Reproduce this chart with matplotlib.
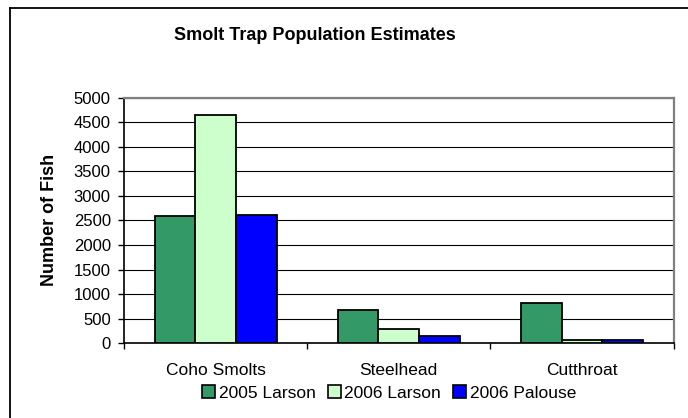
import matplotlib
matplotlib.use("Agg")
import matplotlib.pyplot as plt
from matplotlib.patches import Patch
from matplotlib.lines import Line2D
import numpy as np

plt.rcParams['font.family'] = ['Liberation Sans', 'DejaVu Sans']

categories = ["Coho Smolts", "Steelhead", "Cutthroat"]
series_names = ["2005 Larson", "2006 Larson", "2006 Palouse"]
larson_2005 = [2580, 670, 810]
larson_2006 = [4640, 290, 70]
palouse_2006 = [2600, 150, 60]
y_ticks = [0, 500, 1000, 1500, 2000, 2500, 3000, 3500, 4000, 4500, 5000]

colors = ["#339966", "#CCFFCC", "#0000FF"]

W, H = 688, 418
fig = plt.figure(figsize=(W / 100, H / 100), dpi=100)
fig.patch.set_facecolor("white")

# plot area in pixel terms
left_px, right_px, top_px, bottom_px = 124, 673.5, 97.5, 343.3
ax = fig.add_axes([left_px / W, 1 - bottom_px / H,
                   (right_px - left_px) / W, (bottom_px - top_px) / H])

x = np.arange(len(categories))
bw = 2 / 9
for i, (vals, c, name) in enumerate(zip([larson_2005, larson_2006, palouse_2006],
                                        colors, series_names)):
    ax.bar(x + (i - 1) * bw, vals, width=bw, color=c, edgecolor="black",
           linewidth=1.3, zorder=3, label=name)

ax.set_xlim(-0.5, len(categories) - 0.5)
ax.set_ylim(0, 5000)
ax.set_yticks(y_ticks)
ax.set_yticklabels([str(v) for v in y_ticks], fontsize=12)
ax.yaxis.grid(True, color="black", linewidth=0.8, zorder=0)
ax.set_axisbelow(True)

# category labels centred, ticks on category boundaries
ax.set_xticks(np.arange(-0.5, len(categories), 1.0))
ax.set_xticklabels([])
ax.set_xticks(x, minor=True)
ax.set_xticklabels(categories, minor=True, fontsize=12.5)
ax.tick_params(axis="x", which="minor", length=0, pad=14)
ax.tick_params(axis="x", which="major", length=4.5, width=1, direction="out")
ax.tick_params(axis="y", length=4.5, width=1, direction="out", pad=5)

for s in ["left", "bottom"]:
    ax.spines[s].set_color("black")
    ax.spines[s].set_linewidth(1.2)
for s in ["top", "right"]:
    ax.spines[s].set_color("#808080")
    ax.spines[s].set_linewidth(1.6)

fig.text(315 / W, 1 - 35 / H, "Smolt Trap Population Estimates",
         fontsize=13, fontweight="bold", ha="center", va="center")
fig.text(49 / W, 1 - 220 / H, "Number of Fish", fontsize=13,
         fontweight="bold", rotation=90, ha="center", va="center")

handles = [Patch(facecolor=c, edgecolor="black", linewidth=1.2) for c in colors]
fig.legend(handles, series_names, loc="center", bbox_to_anchor=(389 / W, 1 - 393 / H),
           ncol=3, frameon=False, fontsize=12.5, handlelength=0.75,
           handleheight=0.75, handletextpad=0.2, columnspacing=0.7,
           borderaxespad=0, borderpad=0)

# outer chart border (left and top edges visible)
fig.add_artist(Line2D([9.5 / W, 9.5 / W], [0, 1 - 7.5 / H], transform=fig.transFigure,
                      color="black", linewidth=1.3))
fig.add_artist(Line2D([9.5 / W, 1], [1 - 7.5 / H, 1 - 7.5 / H], transform=fig.transFigure,
                      color="black", linewidth=1.3))

fig.savefig("out.png", dpi=100)
